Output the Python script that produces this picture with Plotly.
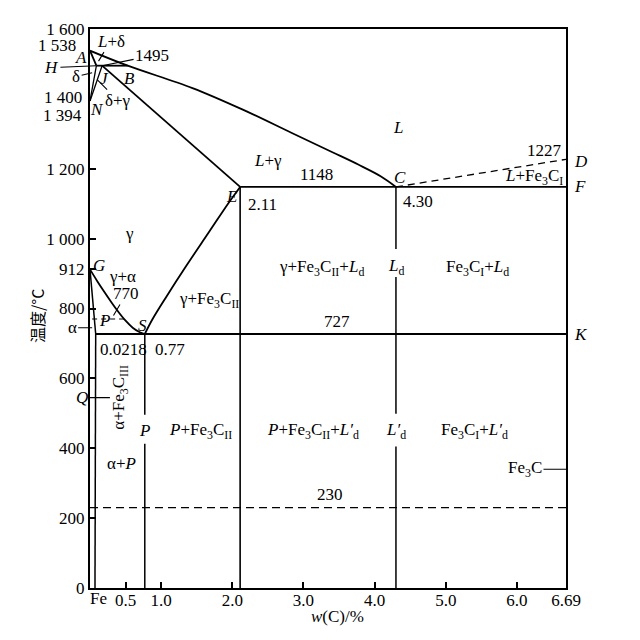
import plotly.graph_objects as go

SERIF = "Liberation Serif"

# ---------------- data: composition w(C)/% and temperature /°C ----------------
liq_x = [0.0, 0.53, 1.44, 2.14, 2.83, 3.40, 3.77, 4.09, 4.30]          # A-B-C liquidus
liq_y = [1538, 1495, 1431, 1370, 1303, 1248, 1212, 1178, 1148]
ah_x, ah_y = [0.0, 0.09], [1538, 1495]                                  # A-H
hjb_x, hjb_y = [0.09, 0.53], [1495, 1495]                               # H-J-B peritectic
hn_x, hn_y = [0.09, 0.0], [1495, 1394]                                  # H-N
jn_x, jn_y = [0.17, 0.0], [1495, 1394]                                  # J-N
je_x, je_y = [0.17, 2.11], [1495, 1148]                                 # J-E
ecf_x, ecf_y = [2.11, 6.69], [1148, 1148]                               # E-C-F eutectic
cd_x, cd_y = [4.30, 6.69], [1148, 1227]                                 # C-D (dashed)
es_x = [2.11, 1.94, 1.67, 1.34, 1.08, 0.88, 0.77]                       # E-S (Acm)
es_y = [1148, 1100, 1018, 918, 836, 770, 727]
gs_x = [0.0, 0.1, 0.2, 0.3, 0.4, 0.5, 0.6, 0.7, 0.77]                   # G-S (A3)
gs_y = [912, 879, 848, 818, 790, 765, 745, 732, 727]
gp_x, gp_y = [0.0, 0.08], [912, 727]                                    # G-P
pq_x, pq_y = [0.08, 0.07], [727, 0]                                     # P-Q
psk_x, psk_y = [0.08, 6.69], [727, 727]                                 # P-S-K eutectoid
m770_x, m770_y = [0.03, 0.48], [770, 770]                               # 770 magnetic (dashed)
m230_x, m230_y = [0.0, 6.69], [230, 230]                                # 230 magnetic (dashed)
v077_x, v077_y = [0.77, 0.77, None, 0.77, 0.77], [727, 496, None, 413, 0]
v211_x, v211_y = [2.11, 2.11], [1148, 0]
v430_x = [4.30, 4.30, None, 4.30, 4.30, None, 4.30, 4.30]
v430_y = [1148, 970, None, 890, 499, None, 405, 0]

x_tickvals = [0, 0.5, 1.0, 2.0, 3.0, 4.0, 5.0, 6.0, 6.69]
x_ticktext = ["", "0.5", "1.0", "2.0", "3.0", "4.0", "5.0", "6.0", "6.69"]
y_tickvals = [0, 200, 400, 600, 800, 912, 1000, 1200, 1600]
y_ticktext = ["0", "200", "400", "600", "800", "912", "1 000", "1 200", "1 600"]

fig = go.Figure()

def line(x, y, w=1.8, dash="solid", spline=False):
    fig.add_trace(go.Scatter(x=x, y=y, mode="lines", hoverinfo="skip",
                             line=dict(color="black", width=w, dash=dash,
                                       shape="spline" if spline else "linear")))

line(liq_x, liq_y, spline=True)
line(ah_x, ah_y)
line(hjb_x, hjb_y)
line(hn_x, hn_y, w=1.3)
line(jn_x, jn_y, w=1.3)
line(je_x, je_y)
line(ecf_x, ecf_y)
line(cd_x, cd_y, w=1.3, dash="7px,5px")
line(es_x, es_y, spline=True)
line(gs_x, gs_y, spline=True)
line(gp_x, gp_y, w=1.5)
line(pq_x, pq_y, w=1.5)
line(psk_x, psk_y)
line(m770_x, m770_y, w=1.2, dash="5px,4px")
line(m230_x, m230_y, w=1.3, dash="8px,5px")
line(v077_x, v077_y, w=1.5)
line(v211_x, v211_y, w=1.6)
line(v430_x, v430_y, w=1.5)

ann = []
FONT = dict(family=SERIF, size=17, color="black")

def lab(x, y, text, **kw):
    d = dict(x=x, y=y, xref="x", yref="y", text=text, showarrow=False, font=FONT)
    d.update(kw)
    ann.append(d)

def lead(x, y, text, ax, ay, **kw):
    d = dict(x=x, y=y, xref="x", yref="y", text=text, showarrow=True, arrowhead=0,
             arrowwidth=1.1, arrowcolor="black", ax=ax, ay=ay, font=FONT)
    d.update(kw)
    ann.append(d)

# region / point labels
lab(4.33, 1317, "<i>L</i>")
lab(2.50, 1223, "<i>L</i>+γ")
lab(3.18, 1152, "1148", yanchor="bottom")
lab(2.00, 1121, "<i>E</i>")
lab(2.42, 1099, "2.11")
lab(4.36, 1175, "<i>C</i>")
lab(4.61, 1107, "4.30")
lab(6.39, 1252, "1227")
lab(6.67, 1175, "<i>L</i>+Fe<sub>3</sub>C<sub>I</sub>", xanchor="right")
lab(0.56, 1014, "γ")
lab(0.13, 923, "<i>G</i>")
lab(0.46, 892, "γ+α")
lead(0.33, 780, "770", 13, -22)
lab(0.20, 765, "<i>P</i>")
lab(0.735, 752, "<i>S</i>")
lab(0.47, 683, "0.0218")
lab(1.12, 683, "0.77")
lab(1.67, 824, "γ+Fe<sub>3</sub>C<sub>II</sub>")
lab(3.26, 915, "γ+Fe<sub>3</sub>C<sub>II</sub>+<i>L</i><sub>d</sub>")
lab(4.30, 920, "<i>L</i><sub>d</sub>")
lab(5.44, 915, "Fe<sub>3</sub>C<sub>I</sub>+<i>L</i><sub>d</sub>")
lab(3.47, 731, "727", yanchor="bottom")
lab(0.77, 452, "<i>P</i>")
lab(1.55, 450, "<i>P</i>+Fe<sub>3</sub>C<sub>II</sub>")
lab(3.13, 450, "<i>P</i>+Fe<sub>3</sub>C<sub>II</sub>+<i>L′</i><sub>d</sub>")
lab(4.30, 450, "<i>L′</i><sub>d</sub>")
lab(5.41, 450, "Fe<sub>3</sub>C<sub>I</sub>+<i>L′</i><sub>d</sub>")
lab(3.37, 236, "230", yanchor="bottom")
lab(0.44, 357, "α+<i>P</i>")
lab(0.42, 547, "α+Fe<sub>3</sub>C<sub>III</sub>", textangle=-90)
lead(6.69, 340, "Fe<sub>3</sub>C", -41, 0)
lab(0.21, 1458, "<i>J</i>")
lab(0.55, 1458, "<i>B</i>")
lab(0.10, 1371, "<i>N</i>")
lead(0.10, 1455, "δ+γ", 21, 21)
lead(0.09, 1495, "<i>H</i>", -45, 2)
lead(0.03, 1475, "δ", -16, 4)
lead(0.12, 1508, "<i>L</i>+δ", 12, -20)
lead(0.17, 1495, "1495", 50, -10)
lead(0.03, 745, "α", -20, 0)
lead(0.28, 545, "<i>Q</i>", -28, 0)

# labels outside the plot (paper x)
def plab(px, y, text, **kw):
    d = dict(x=px, y=y, xref="paper", yref="y", text=text, showarrow=False, font=FONT,
             yanchor="middle")
    d.update(kw)
    ann.append(d)

plab(-0.002, 1519, "<i>A</i>", xanchor="right")
plab(-0.026, 1553, "1 538", xanchor="right")
plab(-0.012, 1405, "1 400", xanchor="right")
plab(-0.012, 1352, "1 394", xanchor="right")
plab(1.012, 1220, "<i>D</i>", xanchor="left")
plab(1.012, 1150, "<i>F</i>", xanchor="left")
plab(1.012, 727, "<i>K</i>", xanchor="left")

# "Fe" origin label and axis titles
ann.append(dict(x=0.017, y=-0.018, xref="paper", yref="paper", text="Fe",
                showarrow=False, xanchor="center", yanchor="middle", font=FONT))
ann.append(dict(x=-0.111, y=0.487, xref="paper", yref="paper", text="温度/°C",
                showarrow=False, textangle=-90, xanchor="center", yanchor="middle",
                font=dict(family="Noto Sans CJK SC", size=16, color="black")))
ann.append(dict(x=0.519, y=-0.051, xref="paper", yref="paper", text="<i>w</i>(C)/%",
                showarrow=False, xanchor="center", yanchor="middle", font=FONT))

axis_common = dict(showgrid=False, zeroline=False, showline=True, mirror=True,
                   linecolor="black", linewidth=2, ticks="inside", ticklen=6,
                   tickwidth=1.5, tickcolor="black", tickfont=FONT)

fig.update_layout(
    width=632, height=632,
    margin=dict(l=82, r=74, t=15, b=52),
    paper_bgcolor="white", plot_bgcolor="white",
    showlegend=False,
    xaxis=dict(range=[0, 6.69], tickvals=x_tickvals, ticktext=x_ticktext,
               ticklabelstandoff=-4, **axis_common),
    yaxis=dict(range=[0, 1600], tickvals=y_tickvals, ticktext=y_ticktext, **axis_common),
    annotations=ann,
)

fig.write_html("out.html")
